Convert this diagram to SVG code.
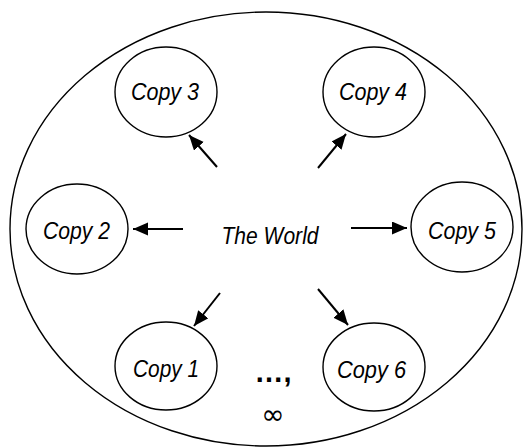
<svg xmlns="http://www.w3.org/2000/svg" width="523" height="447" viewBox="0 0 523 447">
<style>
.n{fill:#fff;stroke:#000;stroke-width:1.4}
.t{font-family:"Liberation Sans",Arial,sans-serif;font-style:italic;font-size:24px;fill:#000;text-anchor:middle}
.c{stroke:#000;stroke-width:2;fill:none;marker-end:url(#ah)}
.p{font-family:"Liberation Sans",Arial,sans-serif;font-size:29px;font-weight:bold;fill:#000;text-anchor:middle}
.inf{font-family:"DejaVu Sans",sans-serif;font-size:28px;fill:#000;text-anchor:middle}
</style>
<defs>
<marker id="ah" markerUnits="userSpaceOnUse" markerWidth="16" markerHeight="14" refX="15" refY="6.5" orient="auto">
<path d="M0,0 L15,6.5 L0,13 Z" fill="#000"/>
</marker>
</defs>
<rect width="523" height="447" fill="#fff"/>
<g id="world">
<ellipse class="n" cx="266" cy="229" rx="256" ry="217"/>
<text class="t" x="270" y="244" textLength="97" lengthAdjust="spacingAndGlyphs">The World</text>
</g>
<g id="copy3"><ellipse class="n" cx="166" cy="92" rx="51" ry="45"/><text class="t" x="165" y="100" textLength="68" lengthAdjust="spacingAndGlyphs">Copy 3</text></g>
<g id="copy4"><ellipse class="n" cx="374" cy="92" rx="51" ry="45"/><text class="t" x="373" y="100" textLength="68" lengthAdjust="spacingAndGlyphs">Copy 4</text></g>
<g id="copy2"><ellipse class="n" cx="77" cy="229" rx="51" ry="45"/><text class="t" x="76.5" y="239" textLength="67" lengthAdjust="spacingAndGlyphs">Copy 2</text></g>
<g id="copy5"><ellipse class="n" cx="462" cy="227" rx="51" ry="45"/><text class="t" x="462" y="239" textLength="68" lengthAdjust="spacingAndGlyphs">Copy 5</text></g>
<g id="copy1"><ellipse class="n" cx="166" cy="366" rx="51" ry="44"/><text class="t" x="166" y="377" textLength="66" lengthAdjust="spacingAndGlyphs">Copy 1</text></g>
<g id="copy6"><ellipse class="n" cx="374" cy="367" rx="51" ry="44"/><text class="t" x="371.5" y="378" textLength="69" lengthAdjust="spacingAndGlyphs">Copy 6</text></g>
<g id="connectors">
<line class="c" x1="217" y1="167" x2="189" y2="135"/>
<line class="c" x1="318" y1="168" x2="346" y2="134"/>
<line class="c" x1="183" y1="229" x2="133" y2="229"/>
<line class="c" x1="351" y1="228" x2="407" y2="228"/>
<line class="c" x1="220" y1="293" x2="194" y2="326"/>
<line class="c" x1="318" y1="289" x2="348" y2="325"/>
</g>
<g id="ellipsis">
<text class="p" x="273" y="382">…,</text>
<text class="inf" x="273" y="424">∞</text>
</g>
</svg>
